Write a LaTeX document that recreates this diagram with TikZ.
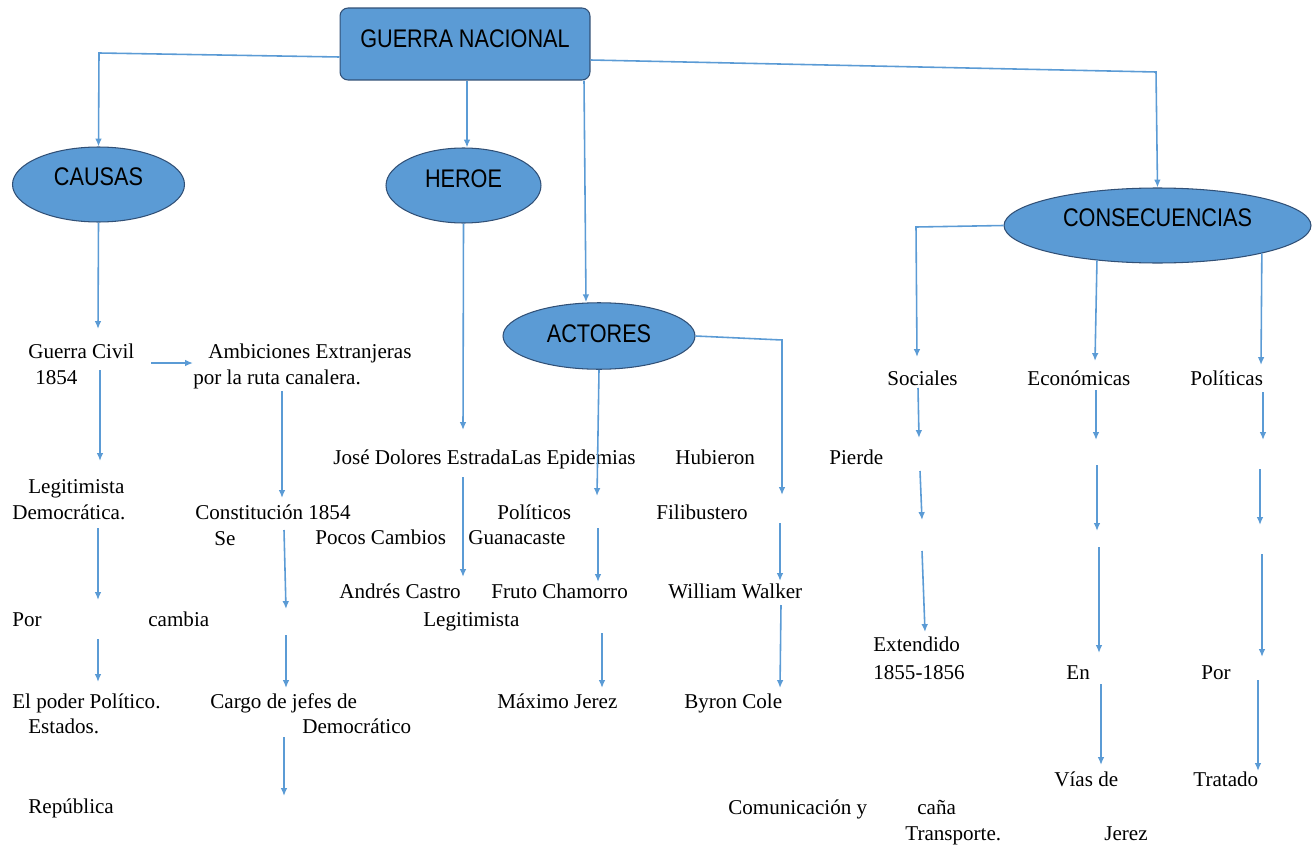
\documentclass[tikz,border=0pt]{standalone}
\usepackage{fontspec}
\setmainfont{Liberation Serif}
\newfontfamily\headfont[FakeStretch=0.85]{Liberation Sans}
\usepackage{xcolor}
\definecolor{mapblue}{RGB}{91,155,213}
\definecolor{mapedge}{RGB}{49,80,118}
\usepackage{tikz}
\usetikzlibrary{positioning}
\usetikzlibrary{shapes.geometric}
\usetikzlibrary{arrows.meta}

\begin{document}
\begin{tikzpicture}[x=0.02cm, y=-0.02cm,
    topbox/.style={draw=mapedge, line width=0.6pt, fill=mapblue, rounded corners=0.16cm, minimum width=5cm, minimum height=1.44cm, inner sep=0pt, font=\headfont\fontsize{14.5}{16}\selectfont},
    oval/.style={ellipse, draw=mapedge, line width=0.6pt, fill=mapblue, inner sep=0pt, text height=0.4cm, font=\headfont\fontsize{14.5}{16}\selectfont},
    txt/.style={anchor=base west, inner sep=0pt, font=\fontsize{12}{14}\selectfont},
    arrow/.style={-{Latex[length=4.5pt,width=3.8pt]}, draw=mapblue, line width=0.9pt},
]
\useasboundingbox (0,0) rectangle (1314,848);

% main box and the four groups
\node[topbox, text height=0.4cm, text depth=0.27cm] (guerra) at (465,44) {GUERRA NACIONAL};
\node[oval, minimum width=3.44cm, minimum height=1.5cm, text depth=0.37cm] (causas) at (98.5,184.5) {CAUSAS};
\node[oval, minimum width=3.1cm, minimum height=1.5cm, text depth=0.33cm] (heroe) at (463.5,185.5) {HEROE};
\node[oval, minimum width=3.84cm, minimum height=1.33cm, text depth=0.15cm] (actores) at (599,336) {ACTORES};
\node[oval, minimum width=6.14cm, minimum height=1.5cm, text depth=0.37cm] (conse) at (1157.5,225.5) {CONSECUENCIAS};

% causas
\node[txt] (guerracivil) at (28,358) {Guerra Civil};
\node[txt] (anio) at (35,384) {1854};
\node[txt] (ambiciones) at (208,358) {Ambiciones Extranjeras};
\node[txt] (ruta) at (193,384) {por la ruta canalera.};
\node[txt] (legit) at (28,493) {Legitimista};
\node[txt] (democratica) at (12,519) {Democrática.};
\node[txt] (constitucion) at (195,519) {Constitución 1854};
\node[txt] (se) at (214,545) {Se};
\node[txt] (porA) at (12,626) {Por};
\node[txt] (cambia) at (148,626) {cambia};
\node[txt] (poder) at (12,708) {El poder Político.};
\node[txt] (estados) at (28,733) {Estados.};
\node[txt] (cargo) at (210,708) {Cargo de jefes de};
\node[txt] (democratico) at (302,733) {Democrático};
\node[txt] (republica) at (28,813) {República};

% heroe y actores
\node[txt] (estrada) at (333,464) {José Dolores Estrada};
\node[txt] (epidemias) at (estrada.base east) {Las Epidemias};
\node[txt] (hubieron) at (675,464) {Hubieron};
\node[txt] (pocos) at (315,544) {Pocos Cambios};
\node[txt] (guanacaste) at (468,544) {Guanacaste};
\node[txt] (politicos) at (497,519) {Políticos};
\node[txt] (filibustero) at (656,519) {Filibustero};
\node[txt] (castro) at (339,598) {Andrés Castro};
\node[txt] (chamorro) at (491,598) {Fruto Chamorro};
\node[txt] (walker) at (668,598) {William Walker};
\node[txt] (legitB) at (423,626) {Legitimista};
\node[txt] (maximo) at (497,708) {Máximo Jerez};
\node[txt] (cole) at (684,708) {Byron Cole};

% consecuencias
\node[txt] (pierde) at (829,464) {Pierde};
\node[txt] (sociales) at (887,385) {Sociales};
\node[txt] (economicas) at (1027,385) {Económicas};
\node[txt] (politicas) at (1190,385) {Políticas};
\node[txt] (extendido) at (873,651) {Extendido};
\node[txt] (anios) at (873,679) {1855-1856};
\node[txt] (en) at (1066,679) {En};
\node[txt] (porB) at (1201,679) {Por};
\node[txt] (vias) at (1054,786) {Vías de};
\node[txt] (tratado) at (1193,786) {Tratado};
\node[txt] (comunicacion) at (728,814) {Comunicación y};
\node[txt] (cana) at (917,814) {caña};
\node[txt] (transporte) at (905,840) {Transporte.};
\node[txt] (jerez) at (1104,840) {Jerez};

% branches from the main box
\draw[arrow] (guerra.west |- 0,57) -- (99,53) -- (causas.north);
\draw[arrow] (guerra.south -| 467,0) -- (heroe.north -| 467,0);
\draw[arrow] (guerra.south -| 584,0) -- (actores.north -| 586,0);
\draw[arrow] (guerra.east |- 0,60) -- (1156,72) -- (conse.north);

% branches from the ovals
\coordinate (causasend) at (98,329);
\coordinate (heroeend) at (463,430);
\coordinate (actoresend) at (597,496);
\coordinate (walkerend) at (782,495);
\coordinate (socialesend) at (917,357);
\coordinate (economicasend) at (1095,361);
\coordinate (politicasend) at (1261,365);
\draw[arrow] (causas.south) -- (causasend);
\draw[arrow] (heroe.south) -- (heroeend);
\draw[arrow] (actores.south) -- (actoresend);
\draw[arrow] (actores.east) -- (782,340) -- (walkerend);
\draw[arrow] (conse.west) -- (916,227) -- (socialesend);
\draw[arrow] (conse.-150) -- (economicasend);
\draw[arrow] (conse.-15) -- (politicasend);

% loose arrows between the lines of text
\foreach \i/\xa/\ya/\xb/\yb in {1/100/370/100/461, 2/151/363/193/363, 3/98/528/98/600, 4/98/639/98/682,
    5/282/391/282/498, 6/284/530/286/609, 7/286/635/286/688, 8/284/737/284/796,
    9/463/477/463/577, 10/598/528/598/582, 11/602/633/602/688, 12/780/523/780/581, 13/781/605/780/688,
    14/918/388/919/438, 15/920/471/922/520, 16/922/551/925/632,
    17/1096/390/1096/440, 18/1097/465/1097/531, 19/1099/547/1099/653, 20/1101/684/1101/765,
    21/1263/392/1263/440, 22/1260/469/1260/525, 23/1262/554/1262/657, 24/1258/680/1258/771}{
  \coordinate (s\i) at (\xa,\ya);
  \coordinate (e\i) at (\xb,\yb);
  \draw[arrow] (s\i) -- (e\i);
}

\end{tikzpicture}
\end{document}
